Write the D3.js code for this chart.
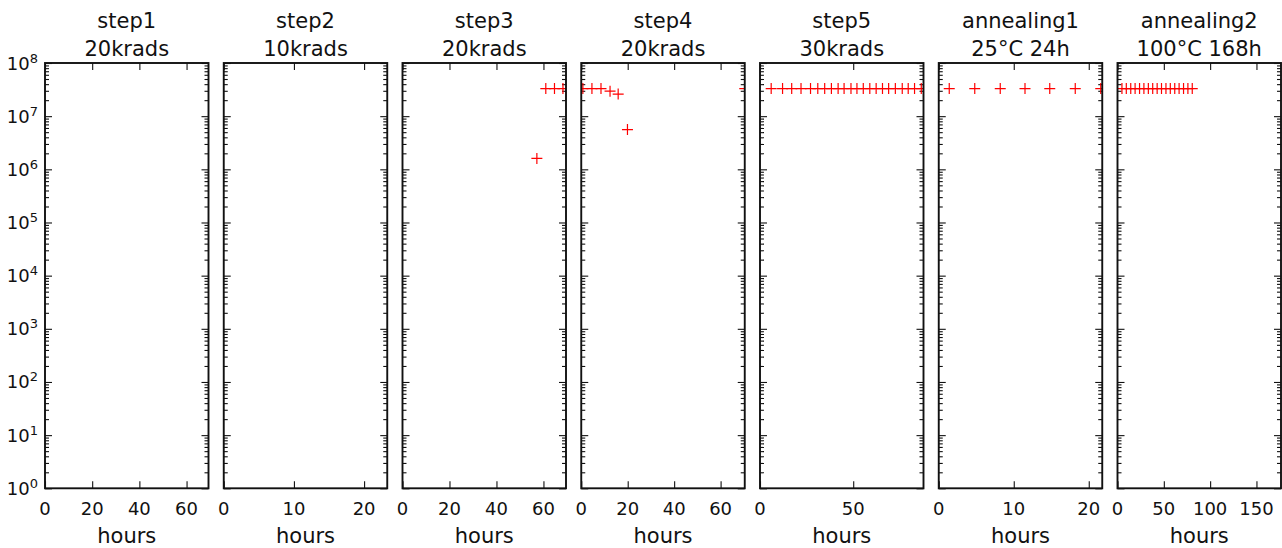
<!DOCTYPE html>
<html><head><meta charset="utf-8">
<script src="https://cdn.jsdelivr.net/npm/d3@7"></script>
<style>
html,body{margin:0;padding:0;background:#fff;}
svg{display:block;}
text{font-family:"DejaVu Sans",sans-serif;fill:#111;}
</style></head>
<body>
<svg id="chart" width="1282" height="548"></svg>
<script>
// ---- data ----
const titlesTop = ["step1","step2","step3","step4","step5","annealing1","annealing2"];
const titlesBottom = ["20krads","10krads","20krads","20krads","30krads","25°C 24h","100°C 168h"];
const xMaxHours = [69.3, 23.3, 69.6, 70.4, 87.7, 21.8, 176.5];
const xTickValues = [[0,20,40,60],[0,10,20],[0,20,40,60],[0,20,40,60],[0,50],[0,10,20],[0,50,100,150]];
const yTickExponents = [0,1,2,3,4,5,6,7,8];
const xLabel = "hours";

const step1Hours = [];
const step1Values = [];
const step2Hours = [];
const step2Values = [];
const step3Hours = [57.2, 61.0, 64.7, 68.3];
const step3Values = [1.6e6, 3.3e7, 3.3e7, 3.3e7];
const step4Hours = [0.7, 4.6, 8.5, 12.4, 15.9, 19.9, 70.4];
const step4Values = [3.3e7, 3.3e7, 3.3e7, 2.95e7, 2.6e7, 5.6e6, 3.3e7];
const step5Hours = [6.0, 12.1, 17.0, 22.0, 27.1, 31.0, 34.7, 38.3, 41.9, 45.1, 48.8, 52.0, 55.4, 58.9, 62.3, 65.7, 69.0, 72.6, 76.3, 79.5, 82.9, 86.5];
const step5Values = [3.3e7,3.3e7,3.3e7,3.3e7,3.3e7,3.3e7,3.3e7,3.3e7,3.3e7,3.3e7,3.3e7,3.3e7,3.3e7,3.3e7,3.3e7,3.3e7,3.3e7,3.3e7,3.3e7,3.3e7,3.3e7,3.3e7];
const annealing1Hours = [1.4, 4.8, 8.2, 11.5, 14.8, 18.2, 21.6];
const annealing1Values = [3.3e7,3.3e7,3.3e7,3.3e7,3.3e7,3.3e7,3.3e7];
const annealing2Hours = [4.8, 9.5, 14.3, 19.0, 23.8, 28.5, 33.3, 38.0, 42.8, 47.5, 52.3, 57.0, 61.8, 66.5, 71.3, 76.0, 80.7];
const annealing2Values = [3.3e7,3.3e7,3.3e7,3.3e7,3.3e7,3.3e7,3.3e7,3.3e7,3.3e7,3.3e7,3.3e7,3.3e7,3.3e7,3.3e7,3.3e7,3.3e7,3.3e7];

const panelHours = [step1Hours, step2Hours, step3Hours, step4Hours, step5Hours, annealing1Hours, annealing2Hours];
const panelValues = [step1Values, step2Values, step3Values, step4Values, step5Values, annealing1Values, annealing2Values];

// ---- layout ----
const svg = d3.select("#chart");
const plotTop = 63, plotBottom = 488.3;
const firstLeft = 45, panelStep = 178.75, panelW = 163.5;

const y = d3.scaleLog().domain([1, 1e8]).range([plotBottom, plotTop]);
const majorY = yTickExponents.map(e => Math.pow(10, e));
const minorY = [];
for (let e = 0; e < 8; e++) for (let m = 2; m <= 9; m++) minorY.push(m * Math.pow(10, e));

titlesTop.forEach((t, i) => {
  const left = firstLeft + i * panelStep;
  const x = d3.scaleLinear().domain([0, xMaxHours[i]]).range([left, left + panelW]);
  const g = svg.append("g");

  const clipId = "clip" + i;
  svg.append("clipPath").attr("id", clipId).append("rect")
    .attr("x", left).attr("y", plotTop).attr("width", panelW).attr("height", plotBottom - plotTop);

  const styleAxis = sel => { sel.select(".domain").remove(); sel.selectAll(".tick line").attr("stroke", "#111").attr("stroke-width", 1.1); sel.selectAll("text").remove(); };
  g.append("g").attr("transform", `translate(${left},0)`)
    .call(d3.axisLeft(y).tickValues(majorY).tickSize(-7)).call(styleAxis);
  g.append("g").attr("transform", `translate(${left},0)`)
    .call(d3.axisLeft(y).tickValues(minorY).tickSize(-4)).call(styleAxis);
  g.append("g").attr("transform", `translate(${left + panelW},0)`)
    .call(d3.axisRight(y).tickValues(majorY).tickSize(-7)).call(styleAxis);
  g.append("g").attr("transform", `translate(${left + panelW},0)`)
    .call(d3.axisRight(y).tickValues(minorY).tickSize(-4)).call(styleAxis);
  g.append("g").attr("transform", `translate(0,${plotBottom})`)
    .call(d3.axisBottom(x).tickValues(xTickValues[i]).tickSize(-7)).call(styleAxis);
  g.append("g").attr("transform", `translate(0,${plotTop})`)
    .call(d3.axisTop(x).tickValues(xTickValues[i]).tickSize(-7)).call(styleAxis);

  g.selectAll("text.xt").data(xTickValues[i]).enter().append("text")
    .attr("x", d => x(d)).attr("y", plotBottom + 26.5)
    .attr("text-anchor", "middle").style("font-size", "18px").text(d => d);

  const pts = panelHours[i].map((h, k) => ({h, v: panelValues[i][k]}));
  g.append("g").attr("clip-path", `url(#${clipId})`)
    .selectAll("path").data(pts).enter().append("path")
    .attr("d", d => { const cx = x(d.h), cy = y(d.v), r = 5.5; return `M${cx - r},${cy}H${cx + r}M${cx},${cy - r}V${cy + r}`; })
    .attr("stroke", "#ff0000").attr("stroke-width", 1.2).attr("fill", "none");

  g.append("rect").attr("x", left).attr("y", plotTop).attr("width", panelW).attr("height", plotBottom - plotTop)
    .attr("fill", "none").attr("stroke", "#111").attr("stroke-width", 1.9);

  const cx = left + panelW / 2;
  g.append("text").attr("x", cx).attr("y", 28).attr("text-anchor", "middle").style("font-size", "21px").text(titlesTop[i]);
  g.append("text").attr("x", cx).attr("y", 55.5).attr("text-anchor", "middle").style("font-size", "21px").text(titlesBottom[i]);
  g.append("text").attr("x", cx).attr("y", 543).attr("text-anchor", "middle").style("font-size", "21px").text(xLabel);

  if (i === 0) {
    yTickExponents.forEach(e => {
      const tx = g.append("text").attr("x", left - 7).attr("y", y(Math.pow(10, e)) + 6.5)
        .attr("text-anchor", "end").style("font-size", "18px");
      tx.append("tspan").text("10");
      tx.append("tspan").attr("dy", -7).style("font-size", "13px").text(String(e));
    });
  }
});
</script>
</body></html>
